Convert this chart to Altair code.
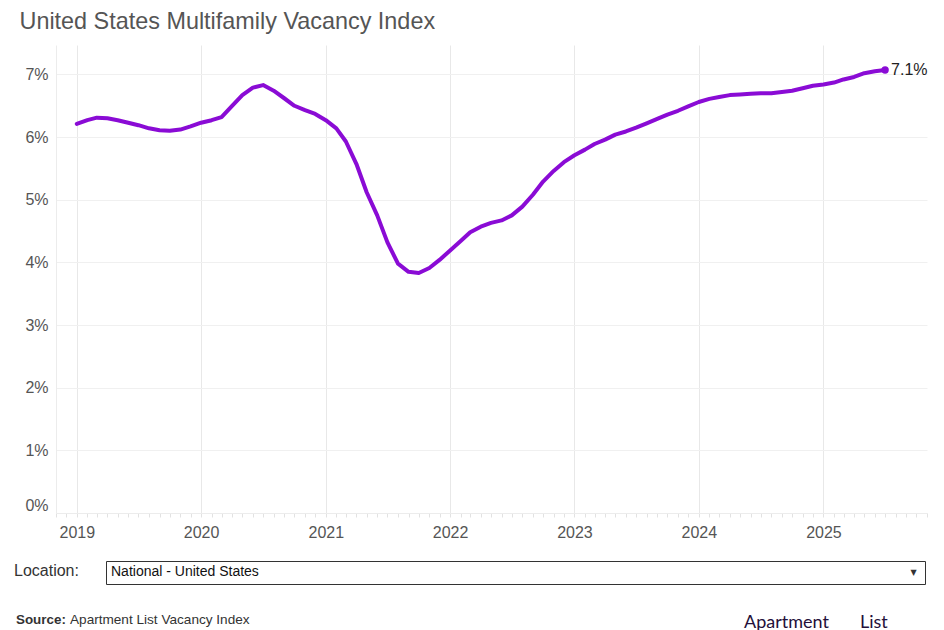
import altair as alt
import pandas as pd

# Monthly vacancy index (%), Jan 2019 .. Jul 2025
vacancy = [6.21, 6.27, 6.31, 6.30, 6.27, 6.23, 6.19, 6.14, 6.11, 6.10, 6.12, 6.17,
           6.23, 6.27, 6.32, 6.50, 6.67, 6.79, 6.83, 6.74, 6.62, 6.50, 6.43, 6.37,
           6.27, 6.14, 5.93, 5.57, 5.12, 4.75, 4.32, 3.98, 3.85, 3.83, 3.91, 4.04,
           4.19, 4.34, 4.48, 4.57, 4.63, 4.67, 4.75, 4.89, 5.08, 5.29, 5.46, 5.60,
           5.71, 5.80, 5.89, 5.96, 6.04, 6.09, 6.15, 6.22, 6.29, 6.36, 6.42, 6.49,
           6.56, 6.61, 6.64, 6.67, 6.68, 6.69, 6.70, 6.70, 6.72, 6.74, 6.78, 6.82,
           6.84, 6.87, 6.92, 6.96, 7.02, 7.05, 7.07]
months = [f"{2019 + i // 12}-{i % 12 + 1:02d}-01T00:00:00" for i in range(len(vacancy))]
y_ticks = [0, 1, 2, 3, 4, 5, 6, 7]

title_text = "United States Multifamily Vacancy Index"
location_label = "Location:"
location_value = "National - United States"
source_bold = "Source:"
source_text = "Apartment List Vacancy Index"
logo_words = ["Apartment", "List"]

df = pd.DataFrame({"date": months, "value": vacancy})
last = df.tail(1)

FONT = "Liberation Sans"
PURPLE = "#8a0bd5"
LABEL = "#555555"

# monthly tick positions Nov 2018 .. Nov 2025
tick_values = []
for yy in range(2018, 2026):
    for mm in range(1, 13):
        if (yy == 2018 and mm < 11) or (yy == 2025 and mm > 11):
            continue
        tick_values.append(alt.DateTime(year=yy, month=mm, date=1))

x_enc = alt.X(
    "date:T",
    scale=alt.Scale(domain=[alt.DateTime(year=2018, month=11, date=1),
                            alt.DateTime(year=2025, month=11, date=1)]),
    axis=alt.Axis(
        title=None,
        values=tick_values,
        tickCount=500,
        labelExpr="month(datum.value) == 0 ? timeFormat(datum.value, '%Y') : ''",
        labelOverlap=False,
        labelFlush=False,
        labelFontSize=16,
        labelColor=LABEL,
        labelPadding=7,
        tickSize=4,
        tickColor="#e2e2e2",
        domainColor="#ececec",
        grid=True,
        gridColor={"condition": {"test": "month(datum.value) == 0", "value": "#e8e8e8"},
                   "value": "transparent"},
    ),
)
y_enc = alt.Y(
    "value:Q",
    scale=alt.Scale(domain=[0, 7.47], nice=False, zero=True),
    axis=alt.Axis(
        title=None,
        values=y_ticks,
        labelExpr="datum.value + '%'",
        labelFontSize=16,
        labelColor=LABEL,
        labelPadding=8,
        labelFlush=True,
        ticks=False,
        domainColor="#ececec",
        gridColor="#f0f0f0",
    ),
)

line = alt.Chart(df).mark_line(color=PURPLE, strokeWidth=4, strokeJoin="round",
                               strokeCap="round").encode(x=x_enc, y=y_enc)

dot = alt.Chart(last).mark_point(filled=True, color=PURPLE, size=55, opacity=1).encode(
    x="date:T", y="value:Q")

end_label = alt.Chart(last).transform_calculate(
    label="format(datum.value, '.1f') + '%'"
).mark_text(align="left", baseline="middle", dx=6, fontSize=16, color="#222222").encode(
    x="date:T", y="value:Q", text="label:N")


def txt(text, x, y, size, color, weight="normal", font=FONT, align="left",
        baseline="middle"):
    return alt.Chart(alt.Data(values=[{}])).mark_text(
        text=text, align=align, baseline=baseline, fontSize=size, color=color,
        font=font, fontWeight=weight
    ).encode(x=alt.value(x), y=alt.value(y))


title = txt(title_text, -36.5, -16.2, 23.4, "#555555", baseline="alphabetic")
loc = txt(location_label, -42, 526, 16, "#333333")
box = alt.Chart(alt.Data(values=[{}])).mark_rect(
    fill="white", stroke="#333333", strokeWidth=1
).encode(x=alt.value(50.5), x2=alt.value(869.5), y=alt.value(516.5), y2=alt.value(539.5))
loc_val = txt(location_value, 55, 527, 14, "#111111")
arrow = txt("▼", 857.7, 527.7, 8, "#333333", font="DejaVu Sans", align="center")
src_b = txt(source_bold, -40, 575, 13.4, "#333333", weight="bold")
src_t = txt(source_text, 14, 575, 13.6, "#333333")
logo1 = txt(logo_words[0], 688, 582.5, 18, "#24103a", font="Lato", baseline="alphabetic")
logo2 = txt(logo_words[1], 804, 582.5, 18, "#24103a", font="Lato", baseline="alphabetic")

chart = alt.layer(
    line, dot, end_label, title, box, loc, loc_val, arrow, src_b, src_t, logo1, logo2
).properties(
    width=871,
    height=468,
    autosize=alt.AutoSizeParams(type="none"),
    padding={"left": 48, "top": 37, "right": 9, "bottom": 117},
).configure(
    font=FONT,
).configure_view(
    stroke=None,
)

chart.save("out.html", embed_options={"renderer": "svg", "actions": False})
